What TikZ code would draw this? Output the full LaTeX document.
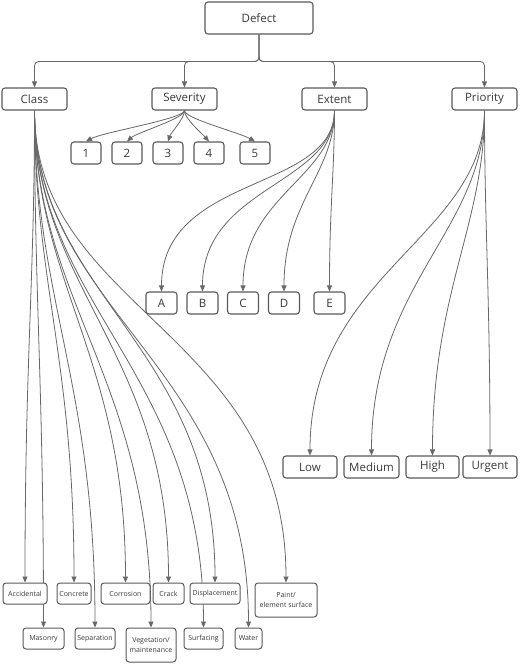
\documentclass[tikz,border=0pt]{standalone}
\usepackage{fontspec}
\setmainfont{Open Sans}
\usetikzlibrary{arrows.meta}
\pgfdeclarelayer{bg}
\pgfsetlayers{bg,main}
\definecolor{ln}{HTML}{686868}
\definecolor{bx}{HTML}{5A5A5A}
\definecolor{tx}{HTML}{3A3A3A}
\begin{document}
\begin{tikzpicture}[x=1pt,y=-1pt,
  box/.style={draw=bx,line width=1.1pt,rounded corners=3pt,fill=white,text=tx,inner sep=0pt,align=center,font=\fontsize{11.5}{13}\selectfont},
  sbox/.style={box,line width=1pt,font=\fontsize{7}{9.5}\selectfont},
  edge/.style={draw=ln,line width=0.8pt,-{Triangle[length=6pt,width=5pt]}},
]
\useasboundingbox (0,0) rectangle (520,665);

% level 0 / 1
\node[box,minimum width=108,minimum height=32] (defect) at (259,18) {Defect};
\node[box,minimum width=65,minimum height=22] (class) at (34.5,99) {Class};
\node[box,minimum width=65,minimum height=22] (severity) at (184.5,99) {Severity};
\node[box,minimum width=65,minimum height=22] (extent) at (334.5,99) {Extent};
\node[box,minimum width=65,minimum height=22] (priority) at (484.5,99) {Priority};

% severity
\node[box,minimum width=30,minimum height=22] (n1) at (86,153) {1};
\node[box,minimum width=30,minimum height=22] (n2) at (127,153) {2};
\node[box,minimum width=30,minimum height=22] (n3) at (168,153) {3};
\node[box,minimum width=30,minimum height=22] (n4) at (209,153) {4};
\node[box,minimum width=30,minimum height=22] (n5) at (255,153) {5};

% extent
\node[box,minimum width=31,minimum height=22] (eA) at (161.5,303) {A};
\node[box,minimum width=31,minimum height=22] (eB) at (202.5,303) {B};
\node[box,minimum width=31,minimum height=22] (eC) at (243,303) {C};
\node[box,minimum width=31,minimum height=22] (eD) at (284,303) {D};
\node[box,minimum width=31,minimum height=22] (eE) at (329.5,303) {E};

% priority
\node[box,minimum width=54,minimum height=22] (low) at (310,467) {Low};
\node[box,minimum width=55,minimum height=22] (medium) at (371.5,467) {Medium};
\node[box,minimum width=53,minimum height=22] (high) at (432.5,467) {High};
\node[box,minimum width=54,minimum height=22] (urgent) at (490,467) {Urgent};

% class row 1
\node[sbox,minimum width=44,minimum height=21] (accidental) at (25,593.5) {Accidental};
\node[sbox,minimum width=34,minimum height=21] (concrete) at (74,593.5) {Concrete};
\node[sbox,minimum width=49,minimum height=21] (corrosion) at (125.5,593.5) {Corrosion};
\node[sbox,minimum width=31,minimum height=21] (crack) at (168.5,593.5) {Crack};
\node[sbox,minimum width=50,minimum height=21] (displacement) at (215,593.5) {Displacement};
\node[sbox,minimum width=62,minimum height=34] (paint) at (286,600) {Paint/\\element surface};
% class row 2
\node[sbox,minimum width=41,minimum height=21] (masonry) at (43.5,638.5) {Masonry};
\node[sbox,minimum width=40,minimum height=21] (separation) at (95,638.5) {Separation};
\node[sbox,minimum width=50,minimum height=34] (vegetation) at (151,645) {Vegetation/\\maintenance};
\node[sbox,minimum width=39,minimum height=21] (surfacing) at (203.5,638.5) {Surfacing};
\node[sbox,minimum width=27,minimum height=21] (water) at (248.5,638.5) {Water};

\begin{pgfonlayer}{bg}
% defect bus
\draw[edge,rounded corners=4pt] (defect.south) -- ++(0,27) -| (class.north);
\draw[edge,rounded corners=4pt] (defect.south) -- ++(0,27) -| (severity.north);
\draw[edge,rounded corners=4pt] (defect.south) -- ++(0,27) -| (extent.north);
\draw[edge,rounded corners=4pt] (defect.south) -- ++(0,27) -| (priority.north);

% severity
\draw[edge] (severity.south) .. controls +(0,8) and +(16,-9) .. (n1.north);
\draw[edge] (severity.south) .. controls +(0,8) and +(10,-9) .. (n2.north);
\draw[edge] (severity.south) .. controls +(0,8) and +(3,-9) .. (n3.north);
\draw[edge] (severity.south) .. controls +(0,8) and +(-8,-9) .. (n4.north);
\draw[edge] (severity.south) .. controls +(0,8) and +(-16,-9) .. (n5.north);

% extent
\draw[edge] (extent.south) .. controls +(0,82) and +(0,-118) .. (eA.north);
\draw[edge] (extent.south) .. controls +(0,74) and +(0,-105) .. (eB.north);
\draw[edge] (extent.south) .. controls +(0,67) and +(0,-96) .. (eC.north);
\draw[edge] (extent.south) .. controls +(0,62) and +(0,-89) .. (eD.north);
\draw[edge] (extent.south) .. controls +(0,60) and +(0,-85) .. (eE.north);

% priority
\draw[edge] (priority.south) .. controls +(0,127) and +(0,-182) .. (low.north);
\draw[edge] (priority.south) .. controls +(0,119) and +(0,-171) .. (medium.north);
\draw[edge] (priority.south) .. controls +(0,114) and +(0,-164) .. (high.north);
\draw[edge] (priority.south) .. controls +(0,113) and +(0,-162) .. (urgent.north);

% class
\draw[edge] (class.south) .. controls +(0,170) and +(0,-222) .. (accidental.north);
\draw[edge] (class.south) .. controls +(0,170) and +(0,-223) .. (concrete.north);
\draw[edge] (class.south) .. controls +(0,174) and +(0,-226) .. (corrosion.north);
\draw[edge] (class.south) .. controls +(0,178) and +(0,-231) .. (crack.north);
\draw[edge] (class.south) .. controls +(0,184) and +(0,-237) .. (displacement.north);
\draw[edge] (class.south) .. controls +(0,200) and +(0,-251) .. (paint.north);
\draw[edge] (class.south) .. controls +(0,186) and +(0,-243) .. (masonry.north);
\draw[edge] (class.south) .. controls +(0,188) and +(0,-245) .. (separation.north);
\draw[edge] (class.south) .. controls +(0,192) and +(0,-249) .. (vegetation.north);
\draw[edge] (class.south) .. controls +(0,196) and +(0,-256) .. (surfacing.north);
\draw[edge] (class.south) .. controls +(0,202) and +(0,-263) .. (water.north);
\end{pgfonlayer}
\end{tikzpicture}
\end{document}
